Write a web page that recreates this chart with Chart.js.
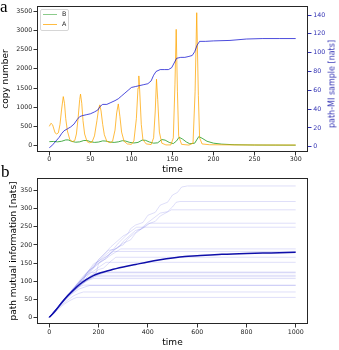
<!DOCTYPE html>
<html lang="en">
<head>
<meta charset="UTF-8">
<title>copy number and path mutual information</title>
<script src="https://cdn.jsdelivr.net/npm/chart.js"></script>
<style>
  body { margin: 0; background: #fff; font-family: 'DejaVu Sans', sans-serif; }
  #wrap { position: relative; width: 339px; height: 350px; overflow: hidden; }
  canvas { position: absolute; left: 0; }
  #topChart { top: 0; }
  #bottomChart { top: 173px; }
  .panel { position: absolute; font-family: 'Liberation Serif', serif; font-size: 17px; line-height: 1; color: #000; }
  #legend { position: absolute; left: 40px; top: 9px; width: 27px; height: 20px; border: 1px solid #d6d6d6; border-radius: 2px; background: rgba(255,255,255,0.85); }
  .leg-line { position: absolute; left: 2px; width: 14px; height: 0; border-top: 1px solid; }
  .leg-text { position: absolute; left: 21px; font-size: 6.3px; line-height: 8px; color: #222; }
  #miTitle { position: absolute; left: 332px; top: 84px; transform: translate(-50%, -50%) rotate(-90deg); white-space: nowrap; font-size: 8px; color: #3232b4; }
</style>
</head>
<body>
<div id="wrap">
  <canvas id="topChart" width="339" height="176"></canvas>
  <canvas id="bottomChart" width="339" height="177"></canvas>
  <div class="panel" style="left:0px; top:-2.5px;">a</div>
  <div class="panel" style="left:1px; top:162.5px;">b</div>
  <div id="legend">
    <div class="leg-line" style="top:4px; border-color:rgba(44,160,44,0.55);"></div>
    <div class="leg-text" style="top:0px;">B</div>
    <div class="leg-line" style="top:14px; border-color:rgba(255,165,0,0.75);"></div>
    <div class="leg-text" style="top:10px;">A</div>
  </div>
  <div id="miTitle">path-MI sample [nats]</div>
</div>
<script>
// panel a: copy numbers of A and B, and the path-MI of this sample
const timeA = [0, 2, 4, 7, 9, 11, 13, 15, 17, 18.5, 20, 22, 25, 28, 31, 33, 35, 37, 38, 39.5, 41, 43, 46, 49, 52, 55, 58, 60, 61.5, 63, 65, 67, 70, 74, 77, 80, 82, 84, 86, 88, 91, 95, 100, 103, 106, 108, 109, 110, 112, 114, 118, 124, 127, 129, 130.5, 132, 134, 137, 142, 148, 151, 153, 154.5, 156, 157.5, 161, 170, 175, 177.5, 179.5, 181.5, 183, 186, 195, 220, 260, 300];
const copyA = [500, 580, 540, 330, 300, 330, 550, 950, 1276, 1100, 700, 380, 150, 100, 130, 300, 700, 1200, 1340, 1100, 650, 300, 100, 70, 90, 250, 650, 950, 1060, 900, 550, 280, 110, 70, 110, 400, 850, 1085, 750, 350, 110, 40, 30, 120, 700, 1500, 1815, 1450, 550, 150, 40, 25, 200, 900, 1730, 1200, 350, 60, 15, 15, 200, 1600, 3030, 1400, 250, 30, 10, 60, 1400, 3465, 1300, 200, 40, 20, 15, 12, 12];

const timeB = [0, 5, 10, 15, 20, 23, 27, 32, 37, 42, 46, 50, 55, 60, 65, 69, 74, 79, 84, 89, 93, 98, 103, 108, 113, 117, 122, 127, 132, 137, 141, 146, 151, 155, 158, 162, 167, 171, 177, 182, 186, 192, 200, 210, 225, 250, 275, 300];
const copyB = [100, 105, 95, 110, 145, 145, 110, 85, 95, 130, 130, 100, 80, 90, 120, 115, 90, 80, 95, 125, 115, 80, 65, 80, 140, 135, 90, 60, 70, 155, 140, 80, 50, 120, 215, 170, 90, 45, 60, 232, 190, 110, 60, 35, 20, 12, 10, 8];

const timeMI = [0, 3, 6, 9, 12, 15, 18, 22, 26, 30, 34, 37, 40, 45, 50, 55, 59, 62, 65, 70, 75, 80, 84, 88, 92, 96, 100, 105, 110, 115, 120, 124, 127, 130, 135, 140, 145, 149, 152, 155, 160, 165, 170, 174, 177, 180, 183, 190, 200, 220, 240, 260, 280, 300];
const pathMI = [-1, 1, 4, 7, 10, 14, 17, 19, 21, 24, 29, 32, 33, 34, 35, 37, 39, 43, 45, 45, 47, 49, 51, 54, 57, 60, 63, 64, 65, 66, 67, 70, 76, 80, 82, 82, 82, 84, 89, 94, 95, 95, 96, 97, 101, 108, 112, 112, 112.5, 113, 114.5, 115, 115, 115];

const timeTicksA = [0, 50, 100, 150, 200, 250, 300];
const copyTicks = [0, 500, 1000, 1500, 2000, 2500, 3000, 3500];
const miTicks = [0, 20, 40, 60, 80, 100, 120, 140];

// panel b: path mutual information, sample trajectories and their mean
const meanTime = [0, 25, 50, 75, 100, 125, 150, 175, 200, 250, 300, 350, 400, 450, 500, 550, 600, 700, 800, 900, 1000];
const meanPathMI = [0, 18, 40, 60, 77, 92, 104, 114, 121, 131, 139, 146, 153, 159, 164, 168, 170, 174, 176.5, 178, 179.5];

const trajectories = [
  [[0, 0], [20, 12], [40, 25], [60, 36], [80, 45], [100, 52], [112, 55], [1000, 55]],
  [[0, 0], [25, 18], [50, 34], [75, 48], [100, 60], [120, 66], [138, 70], [1000, 70]],
  [[0, 0], [30, 22], [60, 45], [90, 64], [120, 78], [150, 85], [165, 88], [1000, 88]],
  [[0, 0], [30, 25], [60, 48], [90, 68], [120, 84], [140, 89], [1000, 89]],
  [[0, 0], [40, 30], [80, 60], [120, 85], [150, 100], [178, 107], [1000, 107]],
  [[0, 0], [40, 32], [80, 62], [120, 88], [160, 105], [185, 112], [1000, 112]],
  [[0, 0], [35, 28], [70, 55], [110, 82], [140, 100], [170, 116], [1000, 116]],
  [[0, 0], [40, 33], [80, 62], [120, 85], [160, 105], [200, 118], [226, 123], [1000, 123]],
  [[0, 0], [50, 40], [100, 75], [150, 105], [190, 122], [210, 125], [1000, 125]],
  [[0, 0], [50, 40], [100, 76], [130, 100], [145, 104], [160, 118], [200, 138], [230, 152], [1000, 152]],
  [[0, 0], [50, 38], [100, 72], [150, 105], [200, 132], [220, 136], [250, 155], [270, 166], [1000, 166]],
  [[0, 0], [50, 42], [100, 80], [125, 100], [135, 98], [150, 120], [200, 150], [240, 172], [260, 182], [1000, 182]],
  [[0, 0], [50, 40], [100, 78], [150, 115], [170, 125], [190, 122], [200, 148], [250, 172], [290, 189], [1000, 189]],
  [[0, 0], [50, 42], [100, 82], [130, 108], [160, 130], [180, 138], [200, 160], [240, 185], [260, 188], [280, 205], [320, 232], [354, 249], [1000, 249]],
  [[0, 0], [50, 40], [100, 80], [150, 120], [180, 148], [200, 155], [240, 172], [280, 195], [300, 200], [320, 218], [360, 240], [380, 246], [408, 260], [1000, 260]],
  [[0, 0], [50, 40], [100, 78], [150, 115], [200, 150], [230, 162], [250, 180], [300, 205], [330, 214], [350, 232], [400, 258], [430, 265], [450, 280], [496, 297], [1000, 297]],
  [[0, 0], [50, 42], [100, 82], [150, 118], [200, 155], [250, 185], [280, 192], [300, 210], [350, 240], [370, 244], [400, 262], [450, 288], [480, 292], [500, 305], [515, 318], [530, 320], [1000, 320]],
  [[0, 0], [50, 40], [100, 80], [150, 120], [200, 158], [250, 195], [300, 225], [320, 232], [330, 245], [350, 255], [380, 262], [400, 282], [430, 290], [450, 310], [480, 318], [500, 338], [520, 345], [537, 360], [560, 363], [1000, 363]]
];

const timeTicksB = [0, 200, 400, 600, 800, 1000];
const pathTicks = [0, 50, 100, 150, 200, 250, 300, 350];

const toPoints = (xs, ys) => xs.map((x, i) => ({ x: x, y: ys[i] }));
const useTicks = list => scale => { scale.ticks = list.map(v => ({ value: v })); };
const plain = v => String(v);

// matplotlib style box round the plot area
const frame = {
  id: 'frame',
  afterDraw(chart) {
    const { ctx, chartArea: a } = chart;
    ctx.save();
    ctx.strokeStyle = '#262626';
    ctx.lineWidth = 1;
    ctx.strokeRect(a.left + 0.5, a.top + 0.5, a.right - a.left - 1, a.bottom - a.top - 1);
    ctx.restore();
  }
};

const tickFont = { family: 'DejaVu Sans', size: 6.3 };
const titleFont = { family: 'DejaVu Sans', size: 9 };

new Chart(document.getElementById('topChart'), {
  type: 'line',
  data: {
    datasets: [
      { label: 'path-MI', data: toPoints(timeMI, pathMI), yAxisID: 'y2', borderColor: 'rgba(0,0,205,0.7)', borderWidth: 1 },
      { label: 'A', data: toPoints(timeA, copyA), yAxisID: 'y', borderColor: 'rgba(255,165,0,0.75)', borderWidth: 1 },
      { label: 'B', data: toPoints(timeB, copyB), yAxisID: 'y', borderColor: 'rgba(44,160,44,0.85)', borderWidth: 1 }
    ]
  },
  options: {
    responsive: false,
    animation: false,
    devicePixelRatio: 1,
    layout: { padding: { top: 6, left: 0, right: 0, bottom: 0 } },
    elements: { point: { radius: 0 }, line: { tension: 0 } },
    plugins: { legend: { display: false }, tooltip: { enabled: false } },
    scales: {
      x: {
        type: 'linear', min: -15, max: 315,
        afterFit(s) { s.height = 24; },
        afterBuildTicks: useTicks(timeTicksA),
        ticks: { font: tickFont, color: '#222', padding: 0.5, maxRotation: 0, autoSkip: false, callback: plain },
        grid: { drawOnChartArea: false, tickLength: 3.5, color: '#333' },
        border: { display: false },
        title: { display: true, text: 'time', font: titleFont, color: '#000', padding: { top: 0, bottom: 0.6 } }
      },
      y: {
        type: 'linear', position: 'left', min: -170, max: 3640,
        afterFit(s) { s.width = 37; },
        afterBuildTicks: useTicks(copyTicks),
        ticks: { font: tickFont, color: '#222', padding: 1.2, autoSkip: false, callback: plain },
        grid: { drawOnChartArea: false, tickLength: 3.5, color: '#333' },
        border: { display: false },
        title: { display: true, text: 'copy number', font: titleFont, color: '#000', padding: { top: 0.6, bottom: 0 } }
      },
      y2: {
        type: 'linear', position: 'right', min: -5.6, max: 149.6,
        afterFit(s) { s.width = 31; },
        afterBuildTicks: useTicks(miTicks),
        ticks: { font: tickFont, color: '#3232b4', padding: 1.8, autoSkip: false, callback: plain },
        grid: { drawOnChartArea: false, tickLength: 3.5, color: '#3232b4' },
        border: { display: false }
      }
    }
  },
  plugins: [frame]
});

const trajSets = trajectories.map(tr => ({
  data: tr.map(p => ({ x: p[0], y: p[1] })),
  borderColor: 'rgba(0,0,205,0.13)',
  borderWidth: 1,
  tension: 0
}));

new Chart(document.getElementById('bottomChart'), {
  type: 'line',
  data: {
    datasets: [
      { label: 'mean', data: toPoints(meanTime, meanPathMI), borderColor: 'rgb(15,15,170)', borderWidth: 1.5, cubicInterpolationMode: 'monotone' }
    ].concat(trajSets)
  },
  options: {
    responsive: false,
    animation: false,
    devicePixelRatio: 1,
    layout: { padding: { top: 5, left: 0, right: 31, bottom: 0 } },
    elements: { point: { radius: 0 } },
    plugins: { legend: { display: false }, tooltip: { enabled: false } },
    scales: {
      x: {
        type: 'linear', min: -50, max: 1050,
        afterFit(s) { s.height = 26; },
        afterBuildTicks: useTicks(timeTicksB),
        ticks: { font: tickFont, color: '#222', padding: 1, maxRotation: 0, autoSkip: false, callback: plain },
        grid: { drawOnChartArea: false, tickLength: 3.5, color: '#333' },
        border: { display: false },
        title: { display: true, text: 'time', font: titleFont, color: '#000', padding: { top: 0, bottom: 2.1 } }
      },
      y: {
        type: 'linear', position: 'left', min: -18.5, max: 385,
        afterFit(s) { s.width = 37; },
        afterBuildTicks: useTicks(pathTicks),
        ticks: { font: tickFont, color: '#222', padding: 1.2, autoSkip: false, callback: plain },
        grid: { drawOnChartArea: false, tickLength: 3.5, color: '#333' },
        border: { display: false },
        title: { display: true, text: 'path mutual information [nats]', font: titleFont, color: '#000', padding: { top: 8.1, bottom: 0 } }
      }
    }
  },
  plugins: [frame]
});
</script>
</body>
</html>
